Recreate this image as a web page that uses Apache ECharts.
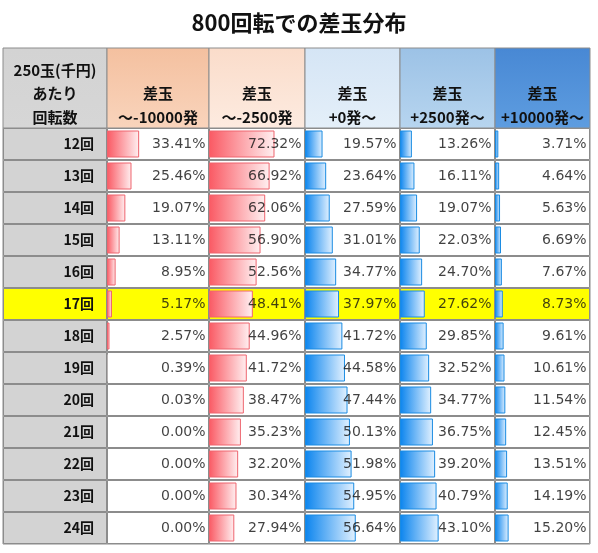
<!DOCTYPE html>
<html><head><meta charset="utf-8">
<script src="https://cdn.jsdelivr.net/npm/echarts@6/dist/echarts.min.js"></script>
<style>html,body{margin:0;padding:0;background:#fff}#c{width:598px;height:553px}</style>
</head><body><div id="c"></div>
<script>
// ---- data ----
const chartTitle = '800回転での差玉分布';
const rowLabels = ['12回','13回','14回','15回','16回','17回','18回','19回','20回','21回','22回','23回','24回'];
const highlightRow = '17回';
const cornerHeader = ['250玉(千円)', 'あたり', '回転数'];
const columnHeaders = [
  ['差玉', '～-10000発'],
  ['差玉', '～-2500発'],
  ['差玉', '+0発～'],
  ['差玉', '+2500発～'],
  ['差玉', '+10000発～']
];
const lossOver10000 = [33.41, 25.46, 19.07, 13.11, 8.95, 5.17, 2.57, 0.39, 0.03, 0.00, 0.00, 0.00, 0.00];
const lossOver2500  = [72.32, 66.92, 62.06, 56.90, 52.56, 48.41, 44.96, 41.72, 38.47, 35.23, 32.20, 30.34, 27.94];
const gainOver0     = [19.57, 23.64, 27.59, 31.01, 34.77, 37.97, 41.72, 44.58, 47.44, 50.13, 51.98, 54.95, 56.64];
const gainOver2500  = [13.26, 16.11, 19.07, 22.03, 24.70, 27.62, 29.85, 32.52, 34.77, 36.75, 39.20, 40.79, 43.10];
const gainOver10000 = [3.71, 4.64, 5.63, 6.69, 7.67, 8.73, 9.61, 10.61, 11.54, 12.45, 13.51, 14.19, 15.20];
const columns = [lossOver10000, lossOver2500, gainOver0, gainOver2500, gainOver10000];

// ---- layout / style ----
const colEdges = [3, 107, 209, 305, 400, 495, 590];
const headTop = 48, bodyTop = 128, bodyBottom = 544;
const axisMax = 106;
const borderCol = '#8c8c8c';
const jpFont = '"Noto Sans CJK JP", "Noto Sans", sans-serif';
const numFont = '"DejaVu Sans", Verdana, sans-serif';
const headerFills = [
  ['#d3d3d3', '#d6d6d6'],
  ['#F4C09F', '#F9D4BC'],
  ['#FADCCA', '#FDEBE0'],
  ['#D5E5F5', '#E4EFF9'],
  ['#9CC2E6', '#B7D5EF'],
  ['#4888D4', '#5E9DE0']
];
const barStyles = [
  {c0: '#FA5963', c1: '#FFF0F1', b: '#EE646E'},
  {c0: '#FA5963', c1: '#FFF0F1', b: '#EE646E'},
  {c0: '#0A84EE', c1: '#E2F1FF', b: '#1A8BE2'},
  {c0: '#0A84EE', c1: '#E2F1FF', b: '#1A8BE2'},
  {c0: '#0A84EE', c1: '#E2F1FF', b: '#1A8BE2'}
];

const chart = echarts.init(document.getElementById('c'), null, {renderer: 'canvas'});

const grids = [], xAxes = [], yAxes = [], series = [], graphics = [];
for (let i = 0; i < 6; i++) {
  grids.push({left: colEdges[i], width: colEdges[i + 1] - colEdges[i], top: bodyTop, height: bodyBottom - bodyTop,
    show: true, borderColor: borderCol, borderWidth: 1, backgroundColor: 'transparent', containLabel: false});
  xAxes.push({gridIndex: i, type: 'value', min: 0, max: axisMax, show: false});
  yAxes.push({gridIndex: i, type: 'category', data: rowLabels, inverse: true, show: false});
  yAxes.push({gridIndex: i, type: 'category', data: rowLabels, inverse: true, show: false});

  // header cell
  const x0 = colEdges[i], w = colEdges[i + 1] - colEdges[i];
  graphics.push({type: 'rect', shape: {x: x0, y: headTop, width: w, height: bodyTop - headTop},
    style: {fill: new echarts.graphic.LinearGradient(0, 0, 0, 1, [{offset: 0, color: headerFills[i][0]}, {offset: 1, color: headerFills[i][1]}]),
      stroke: borderCol, lineWidth: 1}, z: 1});
  const lines = i === 0 ? cornerHeader : columnHeaders[i - 1];
  const ys = i === 0 ? [70, 93, 117] : [93, 117];
  lines.forEach((t, k) => {
    graphics.push({type: 'text', x: x0 + w / 2, y: ys[k], z: 2,
      style: {text: t, align: 'center', verticalAlign: 'middle', font: 'bold 15px ' + jpFont, fill: '#111'}});
  });
}

// row label column
series.push({type: 'bar', xAxisIndex: 0, yAxisIndex: 0, barWidth: '100%', silent: true, z: 1,
  data: rowLabels.map(r => ({value: axisMax, itemStyle: {color: r === highlightRow ? '#ffff00' : '#d3d3d3'}})),
  itemStyle: {borderColor: borderCol, borderWidth: 1},
  label: {show: true, position: 'insideRight', distance: 13, formatter: p => p.name,
    fontFamily: jpFont, fontWeight: 'bold', fontSize: 14, color: '#111'}
});

columns.forEach((vals, j) => {
  const g = j + 1;
  const st = barStyles[j];
  // cell background
  series.push({type: 'bar', xAxisIndex: g, yAxisIndex: 2 * g, barWidth: '100%', silent: true, z: 1,
    data: rowLabels.map(r => ({value: axisMax, itemStyle: {color: r === highlightRow ? '#ffff00' : '#ffffff'}})),
    itemStyle: {borderColor: borderCol, borderWidth: 1}
  });
  // data bar
  series.push({type: 'bar', xAxisIndex: g, yAxisIndex: 2 * g + 1, barWidth: 27, silent: true, z: 2,
    data: vals.map(v => ({value: v, itemStyle: {borderWidth: v < 1 ? 0 : 1}})),
    itemStyle: {borderColor: st.b,
      color: new echarts.graphic.LinearGradient(0, 0, 1, 0, [{offset: 0, color: st.c0}, {offset: 1, color: st.c1}])}
  });
  // value text at right edge of cell
  series.push({type: 'scatter', xAxisIndex: g, yAxisIndex: 2 * g, z: 3, silent: true,
    symbolSize: 1, itemStyle: {color: 'rgba(0,0,0,0)'},
    data: vals.map((v, k) => [axisMax, rowLabels[k], v]),
    label: {show: true, position: 'left', distance: 3,
      formatter: p => p.value[2].toFixed(2) + '%',
      fontFamily: numFont, fontSize: 14, color: '#111'}
  });
});

chart.setOption({
  animation: false,
  backgroundColor: '#ffffff',
  title: {text: chartTitle, left: 'center', top: 7,
    textStyle: {fontFamily: jpFont, fontWeight: 'bold', fontSize: 22, color: '#111'}},
  grid: grids, xAxis: xAxes, yAxis: yAxes, series: series, graphic: graphics
});
</script></body></html>
